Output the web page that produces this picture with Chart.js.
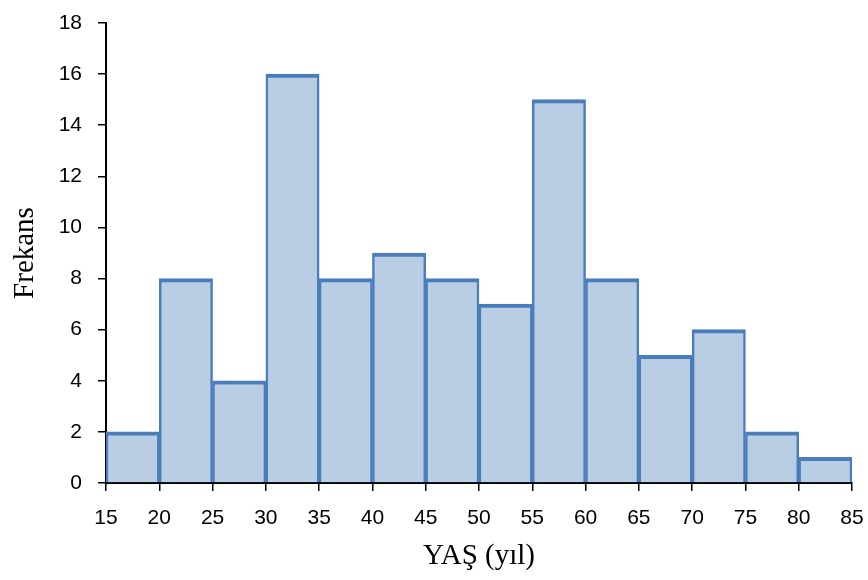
<!DOCTYPE html>
<html>
<head>
<meta charset="utf-8">
<script src="https://cdn.jsdelivr.net/npm/chart.js@4.4.1/dist/chart.umd.min.js"></script>
<style>
html,body{margin:0;padding:0;background:#fff;}
#wrap{width:868px;height:580px;position:relative;}
</style>
</head>
<body>
<div id="wrap"><canvas id="c" width="868" height="580"></canvas></div>
<script>
// Histogram data: age bins (lower edges), bin width, frequencies
const binStarts = [15, 20, 25, 30, 35, 40, 45, 50, 55, 60, 65, 70, 75, 80];
const binWidth = 5;
const frequencies = [2, 8, 4, 16, 8, 9, 8, 7, 15, 8, 5, 6, 2, 1];
const xTicks = [15, 20, 25, 30, 35, 40, 45, 50, 55, 60, 65, 70, 75, 80, 85];
const yTicks = [0, 2, 4, 6, 8, 10, 12, 14, 16, 18];
const xTitle = 'YAŞ (yıl)';
const yTitle = 'Frekans';

const points = binStarts.map((s, i) => ({x: s + binWidth / 2, y: frequencies[i]}));

new Chart(document.getElementById('c'), {
  type: 'bar',
  data: {
    datasets: [{
      data: points,
      backgroundColor: '#B9CDE5',
      borderColor: '#4A7EBB',
      borderWidth: {top: 4, left: 2.5, right: 2.5, bottom: 0},
      barPercentage: 1,
      categoryPercentage: 1,
      borderSkipped: 'bottom'
    }]
  },
  options: {
    responsive: false,
    animation: false,
    layout: {padding: {top: 23, right: 16, left: 4, bottom: 0}},
    plugins: {legend: {display: false}, tooltip: {enabled: false}},
    scales: {
      x: {
        type: 'linear',
        offset: false,
        min: xTicks[0],
        max: xTicks[xTicks.length - 1],
        afterBuildTicks: s => { s.ticks = xTicks.map(v => ({value: v})); },
        afterFit: s => { s.height = 97; s.paddingLeft = 0; s.paddingRight = 0; },
        grid: {display: true, offset: false, drawOnChartArea: false, drawTicks: true, tickLength: 8, color: '#000', lineWidth: 1.5},
        border: {display: true, color: '#000', width: 2},
        ticks: {color: '#000', font: {family: 'Liberation Sans, Arial', size: 21}, padding: 15, maxRotation: 0, autoSkip: false},
        title: {display: true, text: xTitle, color: '#000', font: {family: 'Liberation Serif, Times New Roman', size: 29}, padding: {top: 2, bottom: 6}}
      },
      y: {
        min: 0,
        max: 18,
        afterBuildTicks: s => { s.ticks = yTicks.map(v => ({value: v})); },
        afterFit: s => { s.width = 102; s.paddingTop = 0; s.paddingBottom = 0; },
        grid: {display: true, drawOnChartArea: false, drawTicks: true, tickLength: 8, color: '#000', lineWidth: 1.5},
        border: {display: true, color: '#000', width: 2},
        ticks: {color: '#000', font: {family: 'Liberation Sans, Arial', size: 21}, padding: 16},
        title: {display: true, text: yTitle, color: '#000', font: {family: 'Liberation Serif, Times New Roman', size: 29}, padding: {bottom: 0}}
      }
    }
  }
});
</script>
</body>
</html>
